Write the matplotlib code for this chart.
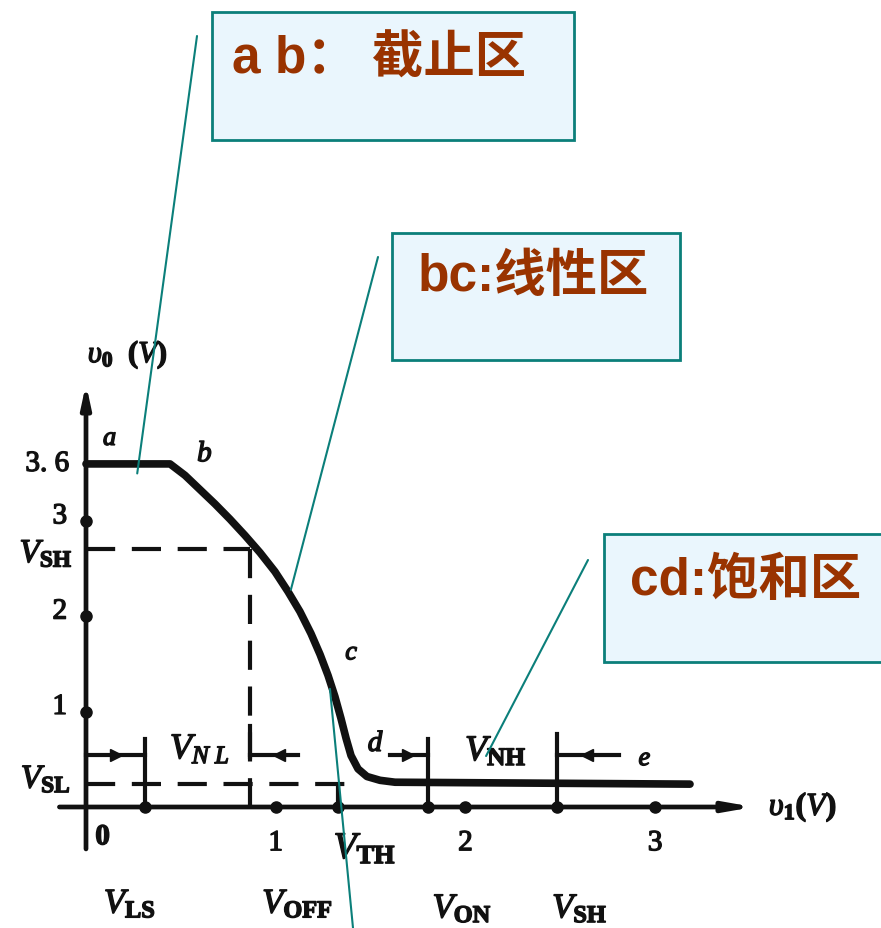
import matplotlib
matplotlib.use("Agg")
import matplotlib.pyplot as plt
import matplotlib.patheffects as pe
from matplotlib.patches import Rectangle

plt.rcParams["mathtext.fontset"] = "custom"
plt.rcParams["mathtext.it"] = "Liberation Serif:italic"
plt.rcParams["mathtext.rm"] = "Liberation Serif:bold"
plt.rcParams["mathtext.bf"] = "Liberation Serif:bold"

# transfer characteristic v_I -> v_O (volts)
vi_curve = [0.0, 0.443, 0.522, 0.601, 0.680, 0.759, 0.838, 0.917, 0.996, 1.065,
            1.128, 1.186, 1.234, 1.276, 1.312, 1.344, 1.371, 1.397, 1.434,
            1.481, 1.550, 1.629, 3.184]
vo_curve = [3.6, 3.6, 3.48, 3.33, 3.18, 3.02, 2.85, 2.67, 2.47, 2.26,
            2.05, 1.82, 1.60, 1.38, 1.16, 0.93, 0.72, 0.54, 0.40,
            0.32, 0.28, 0.26, 0.24]

V_SL, V_SH_OUT = 0.24, 2.707
V_LS, V_OFF, V_TH, V_ON, V_SH_IN = 0.311, 0.865, 1.328, 1.803, 2.483

y_ticks = [1, 2, 3]
y_tick_labels = ["1", "2", "3"]
x_ticks = [1, 2, 3]
x_tick_labels = ["1", "2", "3"]

boxes = ["a b： 截止区", "bc:线性区", "cd:饱和区"]

W, H = 881, 929
fig = plt.figure(figsize=(W / 100, H / 100), dpi=100)
ax = fig.add_axes([0, 0, 1, 1])
px_x, px_y = 189.7, 95.3
x0, y0 = 86, 808
ax.set_xlim(-x0 / px_x, (W - x0) / px_x)
ax.set_ylim((y0 - H) / px_y, y0 / px_y)
ax.axis("off")

ink = "#111111"
fx = [pe.withStroke(linewidth=1.0, foreground=ink)]


def lab(x, y, s, size=21, ha="center", va="center", **kw):
    ax.text(x, y, s, fontsize=size, ha=ha, va=va, color=ink,
            family="Liberation Serif", path_effects=fx, **kw)


# axes with arrowheads
ax.annotate("", xy=(0, 4.44), xytext=(0, -0.44),
            arrowprops=dict(arrowstyle="-|>,head_length=1.3,head_width=0.28",
                            lw=3.4, color=ink, shrinkA=0, shrinkB=0))
ax.annotate("", xy=(3.52, 0), xytext=(-0.14, 0),
            arrowprops=dict(arrowstyle="-|>,head_length=1.6,head_width=0.28",
                            lw=3.4, color=ink, shrinkA=0, shrinkB=0))

# dashed guide lines
dash = dict(color=ink, lw=3, dashes=(7, 4))
ax.plot([0, V_OFF], [V_SH_OUT, V_SH_OUT], **dash)
ax.plot([V_OFF, V_OFF], [V_SH_OUT, 0], **dash)
ax.plot([0, 1.40], [V_SL, V_SL], **dash)

# transfer curve
ax.plot(vi_curve, vo_curve, color=ink, lw=5.5, solid_capstyle="round",
        solid_joinstyle="round")

# noise-margin brackets
solid = dict(color=ink, lw=3)
ax.plot([V_LS, V_LS], [0.71, 0], **solid)
ax.plot([V_OFF, V_OFF], [0.85, 0.52], **solid)
ax.plot([V_ON, V_ON], [0.71, 0], **solid)
ax.plot([V_SH_IN, V_SH_IN], [0.77, 0], **solid)
ax.plot([V_TH, V_TH], [0.2, 0], **solid)
ym = 0.546
ax.plot([0, V_LS], [ym, ym], **solid)
ax.plot([0.16], [ym], marker=">", ms=9, color=ink)
ax.plot([V_OFF, 1.12], [ym, ym], **solid)
ax.plot([1.02], [ym], marker="<", ms=9, color=ink)
ax.plot([1.60, V_ON], [ym, ym], **solid)
ax.plot([1.70], [ym], marker=">", ms=9, color=ink)
ax.plot([V_SH_IN, 2.81], [ym, ym], **solid)
ax.plot([2.64], [ym], marker="<", ms=9, color=ink)

# axis dots
ax.plot([0] * len(y_ticks), y_ticks, "o", ms=8, color=ink)
ax.plot([V_LS, V_TH, V_ON, V_SH_IN] + x_ticks, [0] * (4 + len(x_ticks)),
        "o", ms=8, color=ink)

# y labels
for v, t in zip(y_ticks, y_tick_labels):
    lab(-0.1, v + 0.05, t, ha="right")
lab(-0.09, 3.6, "3. 6", ha="right")
lab(-0.07, V_SH_OUT - 0.05, r"$V_{\mathrm{SH}}$", ha="right", size=24)
lab(-0.08, V_SL + 0.05, r"$V_{\mathrm{SL}}$", ha="right", size=24)
lab(0.22, 4.75, r"$\upsilon_0\ \ (V)$", size=22)

# x labels
lab(0.09, -0.32, "$0$")
for v, t in zip(x_ticks, x_tick_labels):
    lab(v, -0.38, t)
lab(1.47, -0.44, r"$V_{\mathrm{TH}}$", size=27)
lab(3.6, 0.0, r"$\upsilon_1(V)$", ha="left", size=23)
lab(V_LS - 0.08, -1.02, r"$V_{\mathrm{LS}}$", size=25)
lab(V_OFF + 0.25, -1.02, r"$V_{\mathrm{OFF}}$", size=25)
lab(V_ON + 0.18, -1.07, r"$V_{\mathrm{ON}}$", size=25)
lab(V_SH_IN + 0.12, -1.07, r"$V_{\mathrm{SH}}$", size=25)

# region letters and margins
lab(0.127, 3.86, "$a$", size=19)
lab(0.627, 3.70, "$b$", size=21)
lab(1.402, 1.61, "$c$", size=19)
lab(1.529, 0.66, "$d$", size=21)
lab(2.947, 0.50, "$e$", size=19)
lab(0.60, 0.60, r"$V_{N\,\,L}$", size=26)
lab(2.16, 0.58, r"$V_{\mathrm{NH}}$", size=26)

# callout boxes
teal = "#0B7F7A"
brown = "#993300"
box_px = [(212, 13, 362, 128), (392, 234, 288, 127), (604, 535, 290, 128)]
text_px = [(232, 60, "left"), (418, 277, "left"), (630, 582, "left")]
for (bx, by, bw, bh), (tx, ty, ha), s in zip(box_px, text_px, boxes):
    fig.add_artist(Rectangle((bx / W, 1 - (by + bh) / H), bw / W, bh / H,
                             transform=fig.transFigure, facecolor="#EAF6FD",
                             edgecolor=teal, lw=2))
    fig.text(tx / W, 1 - ty / H, s, fontsize=37, fontweight="bold",
             color=brown, ha=ha, va="center",
             family=["Liberation Sans", "Noto Sans CJK SC"])

# leader lines
leaders = [((0.27, 3.5), (197, 37)), ((1.08, 2.28), (378, 258)),
           ((2.109, 0.535), (588, 561)), ((1.286, 1.24), (353, 929))]
for xy, (sx, sy) in leaders:
    ax.annotate("", xy=xy, xytext=(sx, H - sy), textcoords="figure pixels",
                arrowprops=dict(arrowstyle="-", color=teal, lw=1.5,
                                shrinkA=0, shrinkB=0))

fig.savefig("out.png", dpi=100)
